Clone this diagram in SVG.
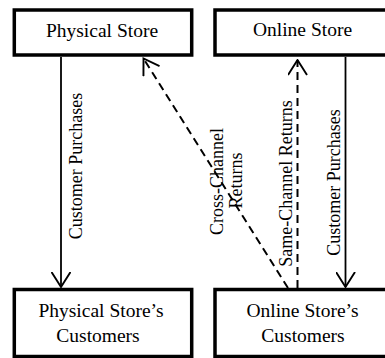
<svg xmlns="http://www.w3.org/2000/svg" width="385" height="358" viewBox="0 0 385 358">
<style>
.box{fill:#fff;stroke:#000;stroke-width:3.5}
.bt{font-family:"Liberation Serif","Times New Roman",serif;font-size:19.5px;fill:#000;text-anchor:middle}
.lt{font-family:"Liberation Serif","Times New Roman",serif;font-size:18px;fill:#000;text-anchor:middle}
.solid{fill:none;stroke:#000;stroke-width:1.8;marker-end:url(#arr)}
.dash{fill:none;stroke:#000;stroke-width:2;stroke-dasharray:8 5;marker-end:url(#arr)}
</style>
<defs>
<marker id="arr" viewBox="0 0 17 20" refX="15.5" refY="10" markerWidth="17" markerHeight="20" markerUnits="userSpaceOnUse" orient="auto">
<path d="M0.5,0.5 L15.5,10 L0.5,19.5" fill="none" stroke="#000" stroke-width="1.9" stroke-dasharray="none"/>
</marker>
</defs>
<rect width="385" height="358" fill="#fff"/>
<g id="physical-store">
<rect class="box" x="14.3" y="10" width="177.4" height="45"/>
<text class="bt" x="102" y="37">Physical Store</text>
</g>
<g id="online-store">
<rect class="box" x="215" y="10" width="177" height="45"/>
<text class="bt" x="302.5" y="36">Online Store</text>
</g>
<g id="physical-customers">
<rect class="box" x="14.3" y="289.5" width="177.4" height="67"/>
<text class="bt" x="101" y="317">Physical Store’s</text>
<text class="bt" x="98" y="341.5">Customers</text>
</g>
<g id="online-customers">
<rect class="box" x="215" y="289.5" width="177" height="67"/>
<text class="bt" x="302.5" y="317">Online Store’s</text>
<text class="bt" x="303" y="341.5">Customers</text>
</g>
<g id="connectors">
<path class="solid" d="M61,57 L61,287"/>
<path class="solid" d="M345.5,57 L345.5,287"/>
<path class="dash" d="M297.5,288 L297.5,60"/>
<path class="dash" d="M288,288 L143.5,58.5"/>
<text class="lt" transform="translate(82,166) rotate(-90)">Customer Purchases</text>
<text class="lt" transform="translate(340,182.5) rotate(-90)">Customer Purchases</text>
<text class="lt" transform="translate(292,183.5) rotate(-90)">Same-Channel Returns</text>
<text class="lt" transform="translate(223,181.5) rotate(-90)">Cross-Channel</text>
<text class="lt" transform="translate(242,180.5) rotate(-90)">Returns</text>
</g>
</svg>
